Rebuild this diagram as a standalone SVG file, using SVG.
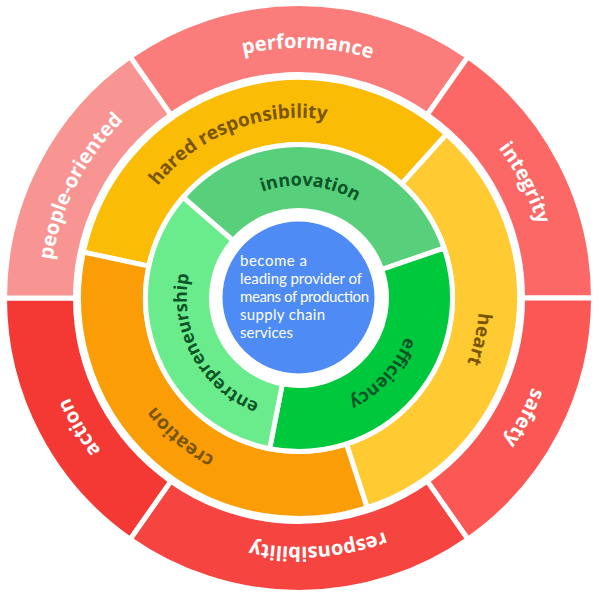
<svg xmlns="http://www.w3.org/2000/svg" xmlns:xlink="http://www.w3.org/1999/xlink" width="600" height="600" viewBox="0 0 600 600">
<style>
.seg{stroke:#fff;stroke-width:5;stroke-linejoin:miter}
.lo{font-family:"Open Sans","Liberation Sans",sans-serif;font-weight:bold;font-size:20px;fill:#fff}
.lm{font-family:"Open Sans","Liberation Sans",sans-serif;font-weight:bold;font-size:19px;fill:#7a5500}
.li{font-family:"Open Sans","Liberation Sans",sans-serif;font-weight:bold;font-size:18px;fill:#0c5428}
.ct{font-family:Lato,"Open Sans","Liberation Sans",sans-serif;font-size:15px;fill:#fff}
</style>
<defs>
<path id="a-perf" d="M49.15,289.28 A250,250 0 0 1 548.85,306.72"/>
<path id="a-integ" d="M185.50,75.25 A250,250 0 0 1 412.50,520.75"/>
<path id="a-safe" d="M416.37,77.26 A250,250 0 0 1 181.63,518.74"/>
<path id="a-resp" d="M548.26,278.82 A250,250 0 0 1 49.74,317.18"/>
<path id="a-act" d="M425.88,513.41 A250,250 0 0 1 172.12,82.59"/>
<path id="a-people" d="M185.50,520.75 A250,250 0 0 1 412.50,75.25"/>
<path id="a-shared" d="M130.48,364.04 A181,181 0 0 1 467.52,231.96"/>
<path id="a-heart" d="M339.41,121.57 A181,181 0 0 1 258.59,474.43"/>
<path id="a-creation" d="M436.63,415.55 A181,181 0 0 1 161.37,180.45"/>
<path id="a-innov" d="M186.58,286.58 A113,113 0 0 1 411.42,309.42"/>
<path id="a-eff" d="M374.61,214.02 A113,113 0 0 1 223.39,381.98"/>
<path id="a-entre" d="M353.09,397.21 A113,113 0 0 1 244.91,198.79"/>
</defs>

<g id="performance">
<path class="seg" fill="#fa7d7b" d="M130.08,56.76 A294.5,294.5 0 0 1 467.92,56.76 L427.19,114.92 A223.5,223.5 0 0 0 170.81,114.92 Z"/>
<text class="lo"><textPath xlink:href="#a-perf" href="#a-perf" startOffset="50%" text-anchor="middle">performance</textPath></text>
</g>
<g id="integrity">
<path class="seg" fill="#fc6866" d="M467.92,56.76 A294.5,294.5 0 0 1 593.5,298 L522.5,298 A223.5,223.5 0 0 0 427.19,114.92 Z"/>
<text class="lo"><textPath xlink:href="#a-integ" href="#a-integ" startOffset="50%" text-anchor="middle">integrity</textPath></text>
</g>
<g id="safety">
<path class="seg" fill="#fb5754" d="M593.5,298 A294.5,294.5 0 0 1 467.92,539.24 L427.19,481.08 A223.5,223.5 0 0 0 522.5,298 Z"/>
<text class="lo"><textPath xlink:href="#a-safe" href="#a-safe" startOffset="50%" text-anchor="middle">safety</textPath></text>
</g>
<g id="responsibility">
<path class="seg" fill="#f64541" d="M467.92,539.24 A294.5,294.5 0 0 1 130.08,539.24 L170.81,481.08 A223.5,223.5 0 0 0 427.19,481.08 Z"/>
<text class="lo"><textPath xlink:href="#a-resp" href="#a-resp" startOffset="50%" text-anchor="middle">responsibility</textPath></text>
</g>
<g id="action">
<path class="seg" fill="#f43934" d="M130.08,539.24 A294.5,294.5 0 0 1 4.5,298 L75.5,298 A223.5,223.5 0 0 0 170.81,481.08 Z"/>
<text class="lo"><textPath xlink:href="#a-act" href="#a-act" startOffset="50%" text-anchor="middle">action</textPath></text>
</g>
<g id="people-oriented">
<path class="seg" fill="#f89593" d="M4.5,298 A294.5,294.5 0 0 1 130.08,56.76 L170.81,114.92 A223.5,223.5 0 0 0 75.5,298 Z"/>
<text class="lo"><textPath xlink:href="#a-people" href="#a-people" startOffset="50%" text-anchor="middle">people-oriented</textPath></text>
</g>

<g id="shared-responsibility">
<path class="seg" fill="#fbbc05" d="M83.32,252.16 A220.5,220.5 0 0 1 446.54,134.14 L401.71,183.93 A153.5,153.5 0 0 0 148.85,266.09 Z"/>
<text class="lm"><textPath xlink:href="#a-shared" href="#a-shared" startOffset="50%" text-anchor="middle">hared responsibility</textPath></text>
</g>
<g id="heart">
<path class="seg" fill="#ffca32" d="M446.54,134.14 A220.5,220.5 0 0 1 367.14,507.71 L346.43,443.99 A153.5,153.5 0 0 0 401.71,183.93 Z"/>
<text class="lm"><textPath xlink:href="#a-heart" href="#a-heart" startOffset="50%" text-anchor="middle">heart</textPath></text>
</g>
<g id="creation">
<path class="seg" fill="#fa9d06" d="M367.14,507.71 A220.5,220.5 0 0 1 83.32,252.16 L148.85,266.09 A153.5,153.5 0 0 0 346.43,443.99 Z"/>
<text class="lm"><textPath xlink:href="#a-creation" href="#a-creation" startOffset="50%" text-anchor="middle">creation</textPath></text>
</g>

<g id="innovation">
<path class="seg" fill="#57cf7b" d="M183.15,197.30 A153.5,153.5 0 0 1 444.14,248.03 L381.73,269.51 A87.5,87.5 0 0 0 232.96,240.60 Z"/>
<text class="li"><textPath xlink:href="#a-innov" href="#a-innov" startOffset="50%" text-anchor="middle">innovation</textPath></text>
</g>
<g id="efficiency">
<path class="seg" fill="#00c83d" d="M444.14,248.03 A153.5,153.5 0 0 1 269.71,448.68 L282.30,383.89 A87.5,87.5 0 0 0 381.73,269.51 Z"/>
<text class="li"><textPath xlink:href="#a-eff" href="#a-eff" startOffset="50%" text-anchor="middle">efficiency</textPath></text>
</g>
<g id="entrepreneurship">
<path class="seg" fill="#6aec8d" d="M269.71,448.68 A153.5,153.5 0 0 1 183.15,197.30 L232.96,240.60 A87.5,87.5 0 0 0 282.30,383.89 Z"/>
<text class="li"><textPath xlink:href="#a-entre" href="#a-entre" startOffset="50%" text-anchor="middle">entrepreneurship</textPath></text>
</g>

<g id="center">
<circle cx="298.5" cy="297.5" r="76" fill="#4e8bf4"/>
<text class="ct" x="240" y="266" textLength="67" lengthAdjust="spacing">become a</text>
<text class="ct" x="240" y="284" textLength="122" lengthAdjust="spacing">leading provider of</text>
<text class="ct" x="240" y="302" textLength="129" lengthAdjust="spacing">means of production</text>
<text class="ct" x="240" y="320" textLength="85" lengthAdjust="spacing">supply chain</text>
<text class="ct" x="240" y="338" textLength="53" lengthAdjust="spacing">services</text>
</g>
</svg>
